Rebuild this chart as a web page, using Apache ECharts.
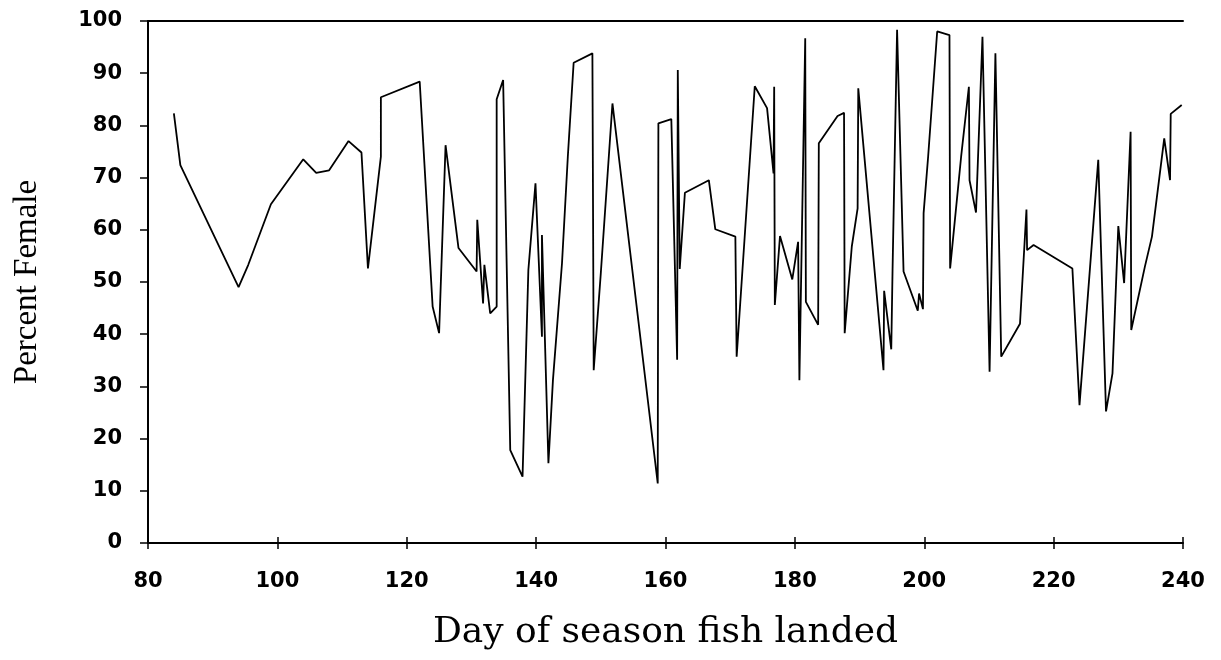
<!DOCTYPE html>
<html>
<head>
<meta charset="utf-8">
<script src="https://cdn.jsdelivr.net/npm/echarts@6/dist/echarts.min.js"></script>
<style>html,body{margin:0;padding:0;background:#fff}#c{width:1221px;height:660px}</style>
</head>
<body>
<div id="c"></div>
<script>
// Day of season (x) and percent female (y)
const days = [84,85,94,95.5,99,104,106,108,111,113,114,116,116,122,124,125,126,128,130.8,130.9,131.8,132,132.9,133.9,133.9,134.9,136,137.9,138.8,139.9,140.9,140.9,141.9,142.6,144,144.9,145.8,148.7,148.9,150,151.8,158.8,158.9,160.9,161.8,161.9,162.2,163,166.7,167.7,170.8,171,173.8,175.7,176.7,176.8,176.9,177.7,179.6,180.5,180.7,181.6,181.7,183.6,183.7,186.6,187.6,187.7,188.8,189.7,189.8,193.7,193.8,194.9,195.1,195.8,196.8,199.0,199.2,199.8,199.9,200.6,202.0,203.9,204.0,205.7,206.9,207.0,208,209,210.1,211,211.9,214.8,215.8,215.9,216.9,222.9,224,226.9,228.1,229.1,230,230.9,231.9,232,234.1,235.2,237.1,238,238.1,239.8];
const percentFemale = [82.3,72.4,49.0,53.3,64.9,73.5,70.9,71.4,77.0,74.8,52.6,74.0,85.4,88.4,45.3,40.2,76.2,56.5,52.0,61.9,45.9,53.3,44.0,45.3,85.0,88.7,17.8,12.7,52.3,68.9,39.5,59.0,15.3,31.2,53.6,74.0,92.0,93.8,33.1,51.7,84.2,11.4,80.4,81.2,35.1,90.6,52.5,67.1,69.5,60.1,58.7,35.7,87.5,83.3,70.8,87.4,45.6,58.8,50.5,57.7,31.2,96.7,46.2,41.8,76.6,81.8,82.4,40.2,56.8,64.1,87.1,33.1,48.3,37.1,52.3,98.3,52.0,44.5,47.8,44.8,63.2,74.0,98.0,97.3,52.6,74.0,87.4,69.5,63.3,97.0,32.8,93.8,35.7,42.0,63.9,56.1,57.1,52.6,26.4,73.4,25.2,32.5,60.7,49.8,78.8,40.8,52.9,58.7,77.5,69.5,82.2,83.9];
const xTitle = 'Day of season fish landed';
const yTitle = 'Percent Female';

const points = days.map((d, i) => [d, percentFemale[i]]);
const chart = echarts.init(document.getElementById('c'), null, {renderer: 'canvas'});
const gridPos = {left: 148, right: 38, top: 21, bottom: 117};
const lineStyle = {color: '#000', width: 2};
const tickFont = {color: '#000', fontFamily: 'DejaVu Sans', fontSize: 21, fontWeight: 'bold'};
chart.setOption({
  animation: false,
  backgroundColor: '#fff',
  grid: [Object.assign({}, gridPos), Object.assign({}, gridPos)],
  xAxis: [
    {
      type: 'value', gridIndex: 0, position: 'bottom', min: 80, max: 240, interval: 20,
      axisLine: {show: true, lineStyle: lineStyle},
      axisTick: {show: true, length: 6, lineStyle: {color: '#000', width: 1.5}},
      axisLabel: Object.assign({margin: 28}, tickFont),
      splitLine: {show: false},
      name: xTitle, nameLocation: 'middle', nameGap: 72,
      nameTextStyle: {color: '#000', fontFamily: 'DejaVu Serif', fontSize: 36}
    },
    {
      type: 'value', gridIndex: 0, position: 'top', min: 80, max: 240, interval: 20,
      axisLine: {show: true, lineStyle: lineStyle},
      axisTick: {show: false}, axisLabel: {show: false}, splitLine: {show: false}
    },
    {
      type: 'value', gridIndex: 1, position: 'bottom', min: 80, max: 240, interval: 20,
      axisLine: {show: false},
      axisTick: {show: true, inside: true, length: 6, lineStyle: {color: '#000', width: 1.5}},
      axisLabel: {show: false}, splitLine: {show: false}
    }
  ],
  yAxis: [
    {
      type: 'value', gridIndex: 0, min: 0, max: 100, interval: 10,
      axisLine: {show: true, lineStyle: lineStyle},
      axisTick: {show: true, length: 8, lineStyle: {color: '#000', width: 1.5}},
      axisLabel: Object.assign({margin: 26}, tickFont),
      splitLine: {show: false},
      name: yTitle, nameLocation: 'middle', nameGap: 104,
      nameTextStyle: {color: '#000', fontFamily: 'Liberation Serif', fontSize: 33}
    },
    {type: 'value', gridIndex: 1, min: 0, max: 100, show: false}
  ],
  series: [{
    type: 'line', xAxisIndex: 0, yAxisIndex: 0, data: points,
    showSymbol: false, symbol: 'none',
    lineStyle: {color: '#000', width: 1.8}
  }]
});
</script>
</body>
</html>
